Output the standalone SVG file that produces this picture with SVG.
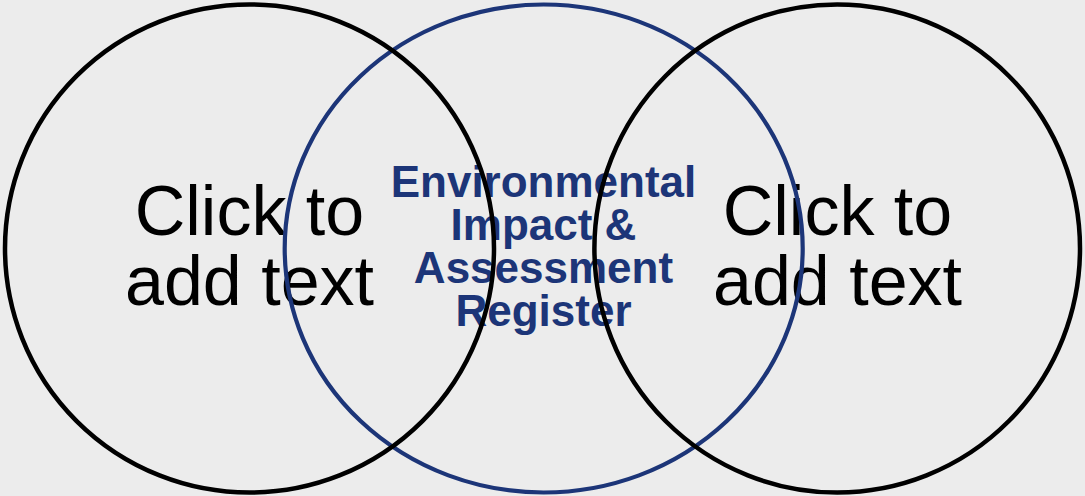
<svg xmlns="http://www.w3.org/2000/svg" width="1085" height="496" viewBox="0 0 1085 496">
  <style>
    .ring { fill: none; stroke: #000000; stroke-width: 4.5; }
    .blue-ring { fill: none; stroke: #1c3578; stroke-width: 4.2; }
    .side { font-family: "Liberation Sans", Arial, sans-serif; font-size: 70px; fill: #000000; text-anchor: middle; }
    .mid { font-family: "Liberation Sans", Arial, sans-serif; font-size: 44px; font-weight: bold; fill: #1c3578; text-anchor: middle; }
  </style>
  <rect x="0" y="0" width="1085" height="496" fill="#ececec"/>
  <g id="left-text">
    <text class="side" x="249.5" y="235">Click to</text>
    <text class="side" x="249.5" y="305">add text</text>
  </g>
  <g id="right-text">
    <text class="side" x="837.5" y="235">Click to</text>
    <text class="side" x="837.5" y="305">add text</text>
  </g>
  <g id="center">
    <ellipse class="blue-ring" cx="543.7" cy="248.5" rx="259" ry="244"/>
    <text class="mid" x="543.5" y="196.5">Environmental</text>
    <text class="mid" x="543.5" y="239.5">Impact &amp;</text>
    <text class="mid" x="543.5" y="282.5">Assessment</text>
    <text class="mid" x="543.5" y="325.5">Register</text>
  </g>
  <g id="left">
    <ellipse class="ring" cx="249.5" cy="248.5" rx="244.5" ry="244"/>
  </g>
  <g id="right">
    <ellipse class="ring" cx="837.2" cy="248.5" rx="242.8" ry="244"/>
  </g>
</svg>
